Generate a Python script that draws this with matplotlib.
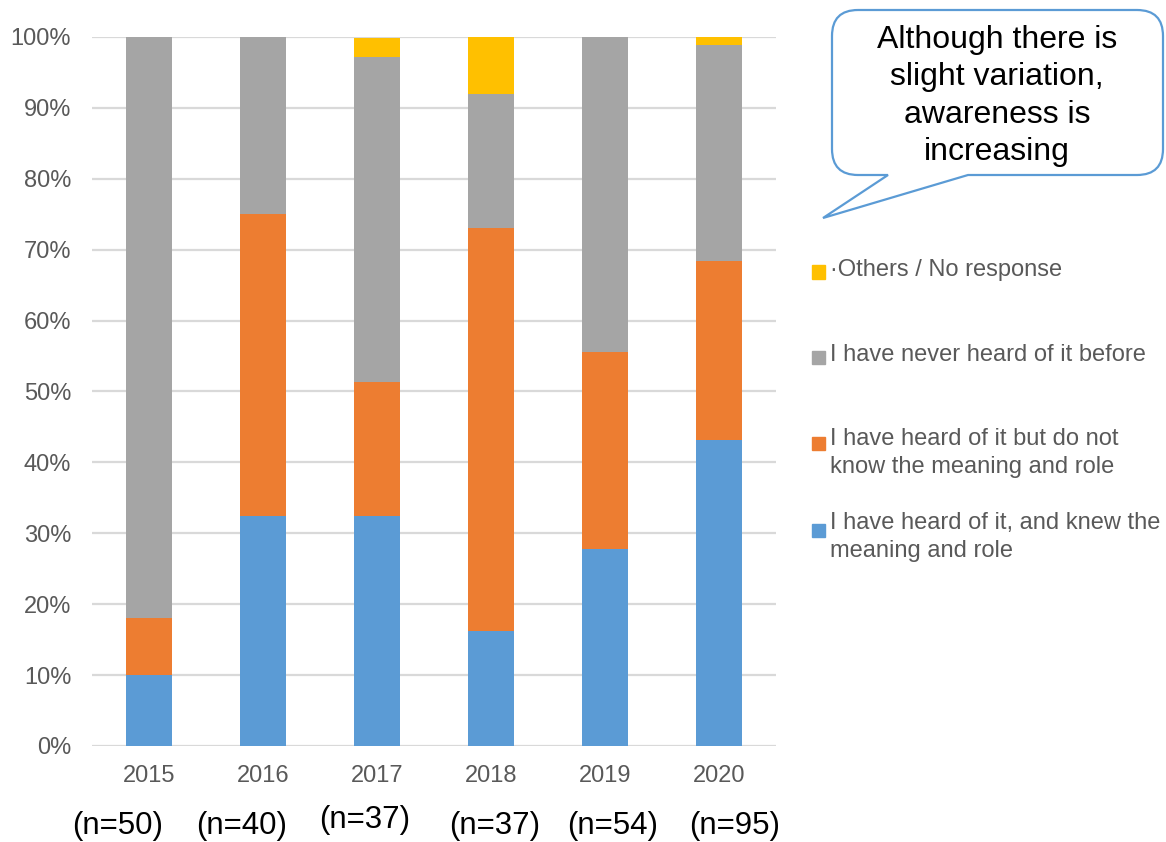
import matplotlib.pyplot as plt
import numpy as np
from matplotlib.path import Path
from matplotlib.patches import PathPatch, Rectangle

plt.rcParams["font.family"] = ["Liberation Sans", "DejaVu Sans"]

years = ["2015", "2016", "2017", "2018", "2019", "2020"]
sample_sizes = ["(n=50)", "(n=40)", "(n=37)", "(n=37)", "(n=54)", "(n=95)"]

# Share of responses per year, in percent (stacked bottom to top).
knew_meaning = [10.0, 32.5, 32.4, 16.2, 27.8, 43.2]
heard_no_meaning = [8.0, 42.5, 18.9, 56.8, 27.8, 25.2]
never_heard = [82.0, 25.0, 45.9, 18.9, 44.4, 30.5]
others = [0.0, 0.0, 2.7, 8.1, 0.0, 1.1]

series = [
    ("I have heard of it, and knew the\nmeaning and role", knew_meaning, "#5B9BD5"),
    ("I have heard of it but do not\nknow the meaning and role", heard_no_meaning, "#ED7D31"),
    ("I have never heard of it before", never_heard, "#A5A5A5"),
    ("\u00b7Others / No response", others, "#FFC000"),
]

W, H = 1166, 842
fig = plt.figure(figsize=(W / 100, H / 100), dpi=100)
ax = fig.add_axes([92 / W, 1 - 746 / H, 684 / W, 709 / H])

x = np.arange(len(years))
bottom = np.zeros(len(years))
for label, vals, color in series:
    vals = np.asarray(vals) / 100
    ax.bar(x, vals, width=0.4, bottom=bottom, color=color, edgecolor="none", zorder=3)
    bottom += vals

ax.set_xlim(-0.5, len(years) - 0.5)
ax.set_ylim(0, 1)
ax.set_yticks(np.arange(0, 1.01, 0.1))
ax.set_yticklabels([f"{int(round(v * 100))}%" for v in np.arange(0, 1.01, 0.1)])
ax.set_xticks(x)
ax.set_xticklabels(years)
ax.tick_params(axis="both", length=0, labelsize=17, labelcolor="#595959")
ax.tick_params(axis="y", pad=15)
ax.tick_params(axis="x", pad=14)
ax.yaxis.grid(True, color="#D9D9D9", linewidth=1.6, zorder=0)
ax.set_axisbelow(True)
for sp in ax.spines.values():
    sp.set_visible(False)


def px(xp, yp):
    """Pixel position (origin top-left) to figure fraction."""
    return xp / W, 1 - yp / H


# Sample size labels under the year ticks
n_pos = [(118, 826), (242, 826), (365, 820), (495, 826), (613, 826), (735, 826)]
for txt, (xp, yp) in zip(sample_sizes, n_pos):
    fig.text(*px(xp, yp), txt, ha="center", va="center", fontsize=22.5, color="black")

# Hand-placed legend, top entry first: (series index, first line centre, square centre)
legend_rows = [(3, 270, 272), (2, 355, 357), (1, 439, 444), (0, 523, 530)]
line_gap = 28
sq = 13
for idx, y_text, y_sq in legend_rows:
    label, _, color = series[idx]
    nlines = label.count("\n") + 1
    fig.patches.append(Rectangle(px(812, y_sq + sq / 2), sq / W, sq / H,
                                 transform=fig.transFigure, color=color))
    fig.text(*px(830, y_text + (nlines - 1) * line_gap / 2), label, ha="left", va="center",
             fontsize=17, color="#595959", linespacing=1.35)

# Speech bubble callout
x0, x1, y0, y1, r = 832, 1163, 10, 175, 26
tail_r, tail_l, tip = 968, 888, (823, 218)
verts = [
    (x0 + r, y0), (x1 - r, y0), (x1, y0), (x1, y0 + r),
    (x1, y1 - r), (x1, y1), (x1 - r, y1),
    (tail_r, y1), tip, (tail_l, y1),
    (x0 + r, y1), (x0, y1), (x0, y1 - r),
    (x0, y0 + r), (x0, y0), (x0 + r, y0),
]
codes = [
    Path.MOVETO, Path.LINETO, Path.CURVE3, Path.CURVE3,
    Path.LINETO, Path.CURVE3, Path.CURVE3,
    Path.LINETO, Path.LINETO, Path.LINETO,
    Path.LINETO, Path.CURVE3, Path.CURVE3,
    Path.LINETO, Path.CURVE3, Path.CURVE3,
]
bubble = Path([px(a, b) for a, b in verts], codes)
fig.patches.append(PathPatch(bubble, transform=fig.transFigure, facecolor="white",
                             edgecolor="#5B9BD5", linewidth=1.6))
fig.text(*px(997, 96), "Although there is\nslight variation,\nawareness is\nincreasing",
         ha="center", va="center", fontsize=23, color="black", linespacing=1.31)

fig.savefig("out.png", dpi=100)
